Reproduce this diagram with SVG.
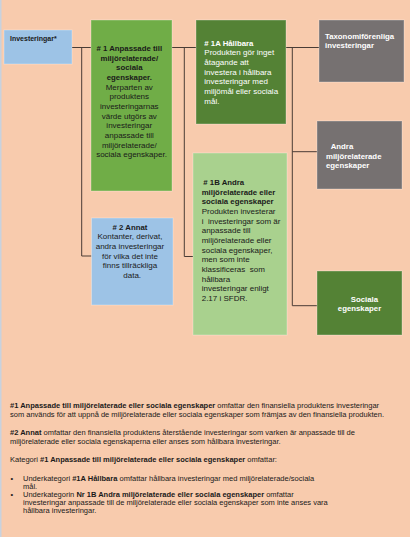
<svg xmlns="http://www.w3.org/2000/svg" width="410" height="537" viewBox="0 0 410 537">
<style>
text{font-family:"Liberation Sans",Arial,sans-serif;}
.box{stroke:#ffffff;stroke-opacity:0.3;stroke-width:1;}
.conn{stroke:#4a3c35;stroke-width:1;fill:none;}
.hb{font-weight:bold;font-size:7.8px;}
.bd{font-size:8px;}
.dk{fill:#1a1a1a;}
.wt{fill:#ffffff;}
.ft{font-size:7.5px;fill:#1a1a1a;}
.b{font-weight:bold;}
</style>
<rect x="0" y="0" width="410" height="537" fill="#f8cbad"/>
<rect x="0" y="0" width="1.5" height="537" fill="#c8d2de"/>
<g id="connectors">
<path class="conn" d="M72,47.5 H91 M81.7,47.5 V256 H91.5"/>
<path class="conn" d="M172,47.5 H196 M184.3,47.5 V256.5 H193"/>
<path class="conn" d="M286,47.5 H319 M292.3,47.5 V305.7 H317 M292.3,151.7 H317"/>
</g>
<g id="node-investeringar">
<rect class="box" x="4" y="30" width="68" height="34" fill="#9dc3e6"/>
<text x="10" y="40.5" class="b dk" font-size="7px">Investeringar*</text>
</g>
<g id="node-1">
<rect class="box" x="91" y="20" width="81" height="171" fill="#70ad47"/>
<text text-anchor="middle" class="dk">
<tspan x="131.5" y="51" class="hb">#&#160;1 Anpassade till</tspan>
<tspan x="131.5" y="60.7" class="hb">miljörelaterade/</tspan>
<tspan x="131.5" y="70.3" class="hb">sociala</tspan>
<tspan x="131.5" y="80" class="hb">egenskaper.</tspan>
<tspan x="131.5" y="89.7" class="bd">Merparten av</tspan>
<tspan x="131.5" y="99.3" class="bd">produktens</tspan>
<tspan x="131.5" y="109" class="bd">investeringarnas</tspan>
<tspan x="131.5" y="118.7" class="bd">värde utgörs av</tspan>
<tspan x="131.5" y="128.3" class="bd">investeringar</tspan>
<tspan x="131.5" y="138" class="bd">anpassade till</tspan>
<tspan x="131.5" y="147.7" class="bd">miljörelaterade/</tspan>
<tspan x="131.5" y="157.3" class="bd">sociala egenskaper.</tspan>
</text>
</g>
<g id="node-2">
<rect class="box" x="91.5" y="218" width="81.5" height="87" fill="#9dc3e6"/>
<text text-anchor="middle" class="dk">
<tspan x="132.2" y="229.8" class="hb">#&#160;2 Annat</tspan>
<tspan x="132.2" y="239.4" class="bd">Kontanter, derivat,</tspan>
<tspan x="132.2" y="249" class="bd">andra investeringar</tspan>
<tspan x="132.2" y="258.6" class="bd">för vilka det inte</tspan>
<tspan x="132.2" y="268.2" class="bd">finns tillräckliga</tspan>
<tspan x="132.2" y="277.8" class="bd">data.</tspan>
</text>
</g>
<g id="node-1a">
<rect class="box" x="196" y="20" width="90" height="104" fill="#548235"/>
<text class="wt">
<tspan x="204.3" y="45.5" class="hb">#&#160;1A Hållbara</tspan>
<tspan x="204.3" y="55.2" class="bd">Produkten gör inget</tspan>
<tspan x="204.3" y="64.8" class="bd">åtagande att</tspan>
<tspan x="204.3" y="74.5" class="bd">investera i hållbara</tspan>
<tspan x="204.3" y="84.2" class="bd">investeringar med</tspan>
<tspan x="204.3" y="93.8" class="bd">miljömål eller sociala</tspan>
<tspan x="204.3" y="103.5" class="bd">mål.</tspan>
</text>
</g>
<g id="node-1b">
<rect class="box" x="193" y="153" width="94" height="182" fill="#a9d18e"/>
<text class="dk">
<tspan x="203.3" y="185.1" class="hb">#&#160;1B Andra</tspan>
<tspan x="201.7" y="194.8" class="hb">miljörelaterade eller</tspan>
<tspan x="201.7" y="204.4" class="hb">sociala egenskaper</tspan>
<tspan x="201.7" y="214.1" class="bd">Produkten investerar</tspan>
<tspan x="201.7" y="223.8" class="bd" font-size="7.5px">i&#160; investeringar som är</tspan>
<tspan x="201.7" y="233.4" class="bd">anpassade till</tspan>
<tspan x="201.7" y="243.1" class="bd">miljörelaterade eller</tspan>
<tspan x="201.7" y="252.8" class="bd">sociala egenskaper,</tspan>
<tspan x="201.7" y="262.4" class="bd">men som inte</tspan>
<tspan x="201.7" y="272.1" class="bd">klassificeras&#160; som</tspan>
<tspan x="201.7" y="281.8" class="bd">hållbara</tspan>
<tspan x="201.7" y="291.4" class="bd">investeringar enligt</tspan>
<tspan x="201.7" y="301.1" class="bd">2.17 i SFDR.</tspan>
</text>
</g>
<g id="node-taxonomi">
<rect class="box" x="319" y="20" width="85" height="62" fill="#767171"/>
<text class="wt hb">
<tspan x="325" y="38.5">Taxonomiförenliga</tspan>
<tspan x="325" y="47.8">investeringar</tspan>
</text>
</g>
<g id="node-andra">
<rect class="box" x="317" y="121" width="85" height="68" fill="#767171"/>
<text class="wt hb">
<tspan x="330.7" y="148.8">Andra</tspan>
<tspan x="326" y="158.5">miljörelaterade</tspan>
<tspan x="326" y="168">egenskaper</tspan>
</text>
</g>
<g id="node-sociala">
<rect class="box" x="317" y="271" width="85" height="64" fill="#548235"/>
<text class="wt b" font-size="7.8px" text-anchor="middle">
<tspan x="365.5" y="301.5">Sociala</tspan>
<tspan x="359.5" y="310.7">egenskaper</tspan>
</text>
</g>
<g id="footnotes">
<text class="ft" x="10" y="407.5"><tspan class="b">#1 Anpassade till miljörelaterade eller sociala egenskaper</tspan> omfattar den finansiella produktens investeringar</text>
<text class="ft" x="10" y="416.5">som används för att uppnå de miljörelaterade eller sociala egenskaper som främjas av den finansiella produkten.</text>
<text class="ft" x="10" y="435.2"><tspan class="b">#2 Annat</tspan> omfattar den finansiella produktens återstående investeringar som varken är anpassade till de</text>
<text class="ft" x="10" y="444.2">miljörelaterade eller sociala egenskaperna eller anses som hållbara investeringar.</text>
<text class="ft" x="10" y="461.5">Kategori <tspan class="b">#1 Anpassade till miljörelaterade eller sociala egenskaper</tspan> omfattar:</text>
<text class="ft" x="10.5" y="480.5">•</text>
<text class="ft" x="23" y="480.5">Underkategori <tspan class="b">#1A Hållbara</tspan> omfattar hållbara investeringar med miljörelaterade/sociala</text>
<text class="ft" x="23" y="488.5">mål.</text>
<text class="ft" x="10.5" y="496.5">•</text>
<text class="ft" x="23" y="496.5">Underkategorin <tspan class="b">Nr 1B Andra miljörelaterade eller sociala egenskaper</tspan> omfattar</text>
<text class="ft" x="23" y="504.5">investeringar anpassade till de miljörelaterade eller sociala egenskaper som inte anses vara</text>
<text class="ft" x="23" y="512.5">hållbara investeringar.</text>
</g>
</svg>
